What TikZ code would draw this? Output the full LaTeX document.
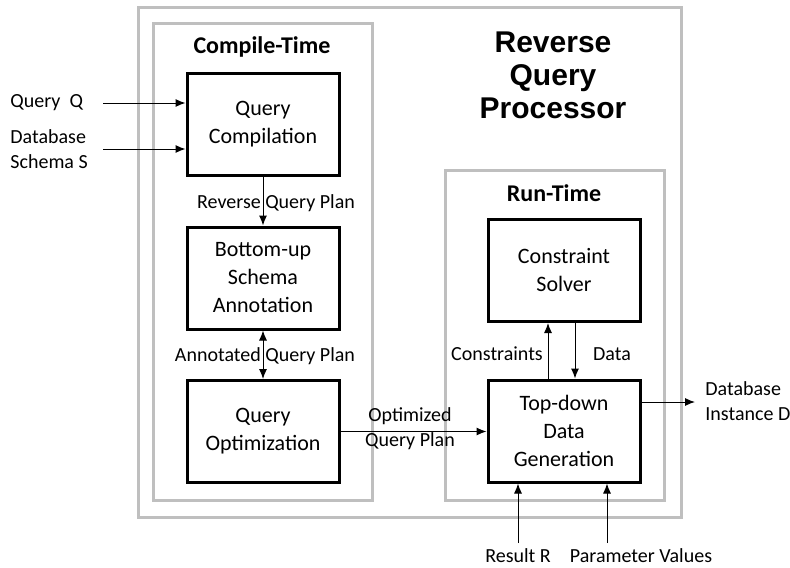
\documentclass[tikz,border=0pt]{standalone}
\usepackage{fontspec}
\setmainfont{Carlito}
\newfontfamily\headfont{Liberation Sans}
\usetikzlibrary{arrows.meta}

\tikzset{
  frame/.style={draw=black!25, line width=1.5pt},
  block/.style={draw, line width=1.5pt, minimum width=76pt, minimum height=51pt,
    align=center, font=\fontsize{11}{14}\selectfont},
  lbl/.style={font=\fontsize{10}{12.5}\selectfont, inner sep=0pt},
  flow/.style={line width=0.5pt, -{Latex[length=5pt,width=4pt]}}
}

\begin{document}
\begin{tikzpicture}[x=0.5pt,y=-0.5pt]
  \useasboundingbox (0,0) rectangle (790,567);

  % gray frames
  \draw[frame] (138,8) rectangle (681,517);
  \draw[frame] (153,24) rectangle (372,500);
  \draw[frame] (445,170) rectangle (664,500);

  \node[font=\headfont\bfseries\fontsize{15}{16.5}\selectfont, align=center] (title) at (553,75) {Reverse\\Query\\Processor};
  \node[font=\bfseries\fontsize{12}{14}\selectfont] (ct) at (262,47) {Compile-Time};
  \node[font=\bfseries\fontsize{12}{14}\selectfont] (rt) at (554,193) {Run-Time};

  % compile-time blocks
  \node[block] (qc) at (263,124.5) {Query\\Compilation};
  \node[block] (bu) at (263,278) {Bottom-up\\Schema\\Annotation};
  \node[block] (qo) at (263,431.5) {Query\\Optimization};

  % run-time blocks
  \node[block] (cs) at (564,270.5) {Constraint\\Solver};
  \node[block] (td) at (564,431) {Top-down\\Data\\Generation};

  % inputs
  \coordinate (qin) at (103,103);
  \coordinate (sin) at (103,149);
  \node[lbl, anchor=west] (ql) at (10,103) {Query\ \ Q};
  \node[lbl, anchor=west, align=left] (sl) at (10,149) {Database\\Schema S};
  \draw[flow] (qin) -- (qin -| qc.west);
  \draw[flow] (sin) -- (sin -| qc.west);

  \draw[flow] (qc.south) -- (bu.north);
  \node[lbl] (rqp) at (276,203) {Reverse Query Plan};
  \draw[flow, {Latex[length=5pt,width=4pt]}-{Latex[length=5pt,width=4pt]}] (bu.south) -- (qo.north);
  \node[lbl] (aqp) at (265,356) {Annotated Query Plan};

  \draw[flow] (qo.east) -- (qo.east -| td.west);
  \node[lbl, align=center] (oqp) at (410,428.5) {Optimized\\Query Plan};

  \draw[flow] ([xshift=-8pt]td.north) -- ([xshift=-8pt]cs.south);
  \draw[flow] ([xshift=5.5pt]cs.south) -- ([xshift=5.5pt]td.north);
  \node[lbl] (cl) at (497,354) {Constraints};
  \node[lbl] (dl) at (612,354) {Data};

  % output
  \coordinate (dout) at (695,402);
  \draw[flow] (dout -| td.east) -- (dout);
  \node[lbl, anchor=west, align=left] (ol) at (705,401) {Database\\Instance D};

  \coordinate (rin) at (518,543);
  \coordinate (pin) at (607,543);
  \draw[flow] (rin) -- (rin |- td.south);
  \draw[flow] (pin) -- (pin |- td.south);
  \node[lbl] (rl) at (518,556) {Result R};
  \node[lbl] (pl) at (641,556) {Parameter Values};
\end{tikzpicture}
\end{document}
